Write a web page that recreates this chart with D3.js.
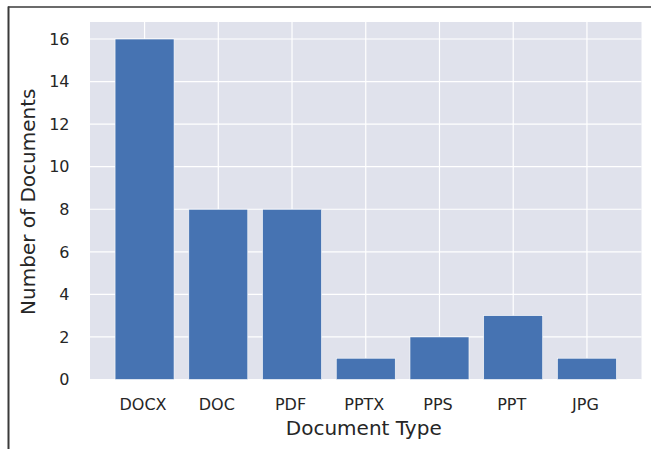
<!DOCTYPE html>
<html><head><meta charset="utf-8">
<script src="https://cdn.jsdelivr.net/npm/d3@7"></script>
<style>body{margin:0;background:#fff}svg{display:block}text{font-family:"DejaVu Sans",sans-serif;fill:#262626}</style>
</head><body>
<script>
const categories = ["DOCX","DOC","PDF","PPTX","PPS","PPT","JPG"];
const counts = [16, 8, 8, 1, 2, 3, 1];
const yTicks = [0, 2, 4, 6, 8, 10, 12, 14, 16];
const xTitle = "Document Type";
const yTitle = "Number of Documents";

const W = 651, H = 449;
const L = 90, R = 641.5, T = 22, B = 379.5;
const svg = d3.select("body").append("svg").attr("width", W).attr("height", H);

// frame (top & left border)
svg.append("line").attr("x1", 8).attr("x2", W).attr("y1", 7).attr("y2", 7).attr("stroke", "#3a3a3a").attr("stroke-width", 1.6);
svg.append("line").attr("x1", 8.5).attr("x2", 8.5).attr("y1", 6.5).attr("y2", H).attr("stroke", "#3a3a3a").attr("stroke-width", 2);

const x = d3.scaleLinear().domain([-0.74, categories.length - 1 + 0.74]).range([L, R]);
const y = d3.scaleLinear().domain([0, 16.8]).range([B, T]);

svg.append("rect").attr("x", L).attr("y", T).attr("width", R - L).attr("height", B - T).attr("fill", "#e0e2ec");

// grid
const g = svg.append("g");
g.selectAll(".hg").data(yTicks).enter().append("line")
  .attr("x1", L).attr("x2", R).attr("y1", d => y(d)).attr("y2", d => y(d))
  .attr("stroke", "#fff").attr("stroke-width", 1.2);
g.selectAll(".vg").data(categories).enter().append("line")
  .attr("y1", T).attr("y2", B).attr("x1", (d, i) => x(i)).attr("x2", (d, i) => x(i))
  .attr("stroke", "#fff").attr("stroke-width", 1.2);

// bars
svg.selectAll(".bar").data(counts).enter().append("rect")
  .attr("x", (d, i) => x(i - 0.4)).attr("width", x(0.4) - x(-0.4))
  .attr("y", d => y(d)).attr("height", d => y(0) - y(d))
  .attr("fill", "#4673b2").attr("stroke", "#fff").attr("stroke-width", 0.6);

// y tick labels
svg.selectAll(".yt").data(yTicks).enter().append("text")
  .attr("x", 69.5).attr("y", d => y(d)).attr("dy", "0.36em").attr("text-anchor", "end")
  .attr("font-size", "16px").text(d => d);

// x tick labels
svg.selectAll(".xt").data(categories).enter().append("text")
  .attr("x", (d, i) => x(i) - 1.5).attr("y", 410).attr("text-anchor", "middle")
  .attr("font-size", "16px").text(d => d);

svg.append("text").attr("x", (L + R) / 2 - 2).attr("y", 435).attr("text-anchor", "middle")
  .attr("font-size", "20px").text(xTitle);
svg.append("text").attr("transform", `translate(34.5,${(T + B) / 2 + 1}) rotate(-90)`).attr("text-anchor", "middle")
  .attr("font-size", "20px").text(yTitle);
</script>
</body></html>
